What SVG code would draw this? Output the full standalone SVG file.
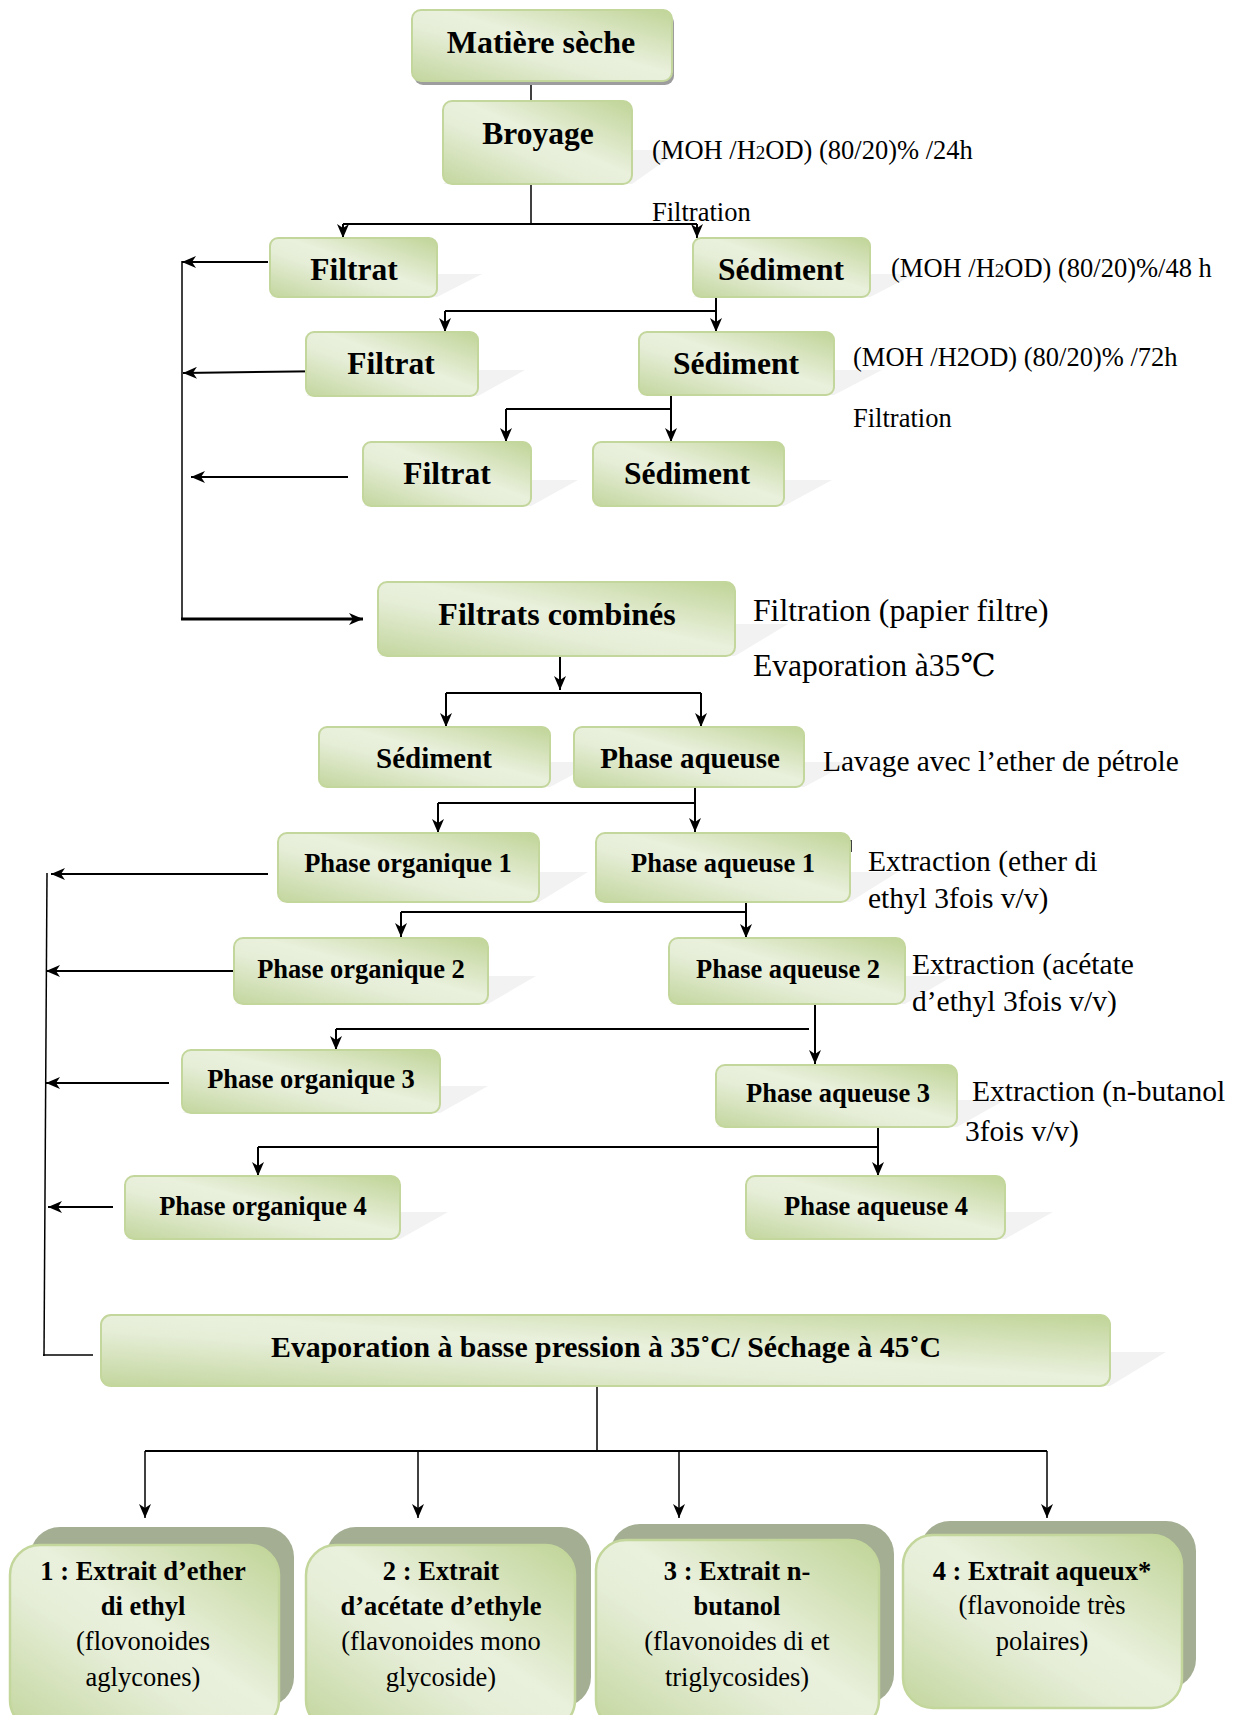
<svg xmlns="http://www.w3.org/2000/svg" width="1241" height="1715" viewBox="0 0 1241 1715">
<style>
.box{fill:url(#g);stroke:#c3d69b;stroke-width:2}
.sh{fill:#f2f2f2}
.t{font-family:"Liberation Serif","Times New Roman",serif;font-weight:bold;text-anchor:middle;fill:#000}
.a{font-family:"Liberation Serif","Times New Roman","DejaVu Serif","Noto Sans CJK SC",serif;fill:#000}
.c{stroke:#000;stroke-width:2;fill:none}
.ca{stroke:#000;stroke-width:2;fill:none;marker-end:url(#ah)}
.back{fill:#a4ae93}
.bt{font-family:"Liberation Serif","Times New Roman",serif;font-size:26.5px;text-anchor:middle;fill:#000}
</style>
<defs>
<linearGradient id="g" x1="1" y1="0" x2="0" y2="1">
<stop offset="0" stop-color="#c0d497"/>
<stop offset="0.45" stop-color="#e9f0dc"/>
<stop offset="0.6" stop-color="#e6eed8"/>
<stop offset="1" stop-color="#c3d69e"/>
</linearGradient>
<marker id="ah" viewBox="0 0 14 12" refX="14" refY="6" markerWidth="14" markerHeight="12" markerUnits="userSpaceOnUse" orient="auto">
<path d="M0,0 L14,6 L0,12 L4,6 z" fill="#000"/>
</marker>
</defs>
<rect width="1241" height="1715" fill="#fff"/>

<g id="connectors">
<line class="c" x1="531" y1="81" x2="531" y2="101" style="stroke-width:1.5"/>
<line class="c" x1="531" y1="184" x2="531" y2="224" style="stroke-width:1.5"/>
<line class="c" x1="343" y1="224" x2="697" y2="224"/>
<line class="ca" x1="343" y1="224" x2="343" y2="238"/>
<line class="ca" x1="697" y1="224" x2="697" y2="238"/>
<line class="ca" x1="716" y1="297" x2="716" y2="332"/>
<line class="c" x1="445" y1="311" x2="716" y2="311"/>
<line class="ca" x1="445" y1="311" x2="445" y2="332"/>
<line class="ca" x1="671" y1="395" x2="671" y2="442"/>
<line class="c" x1="506" y1="409" x2="671" y2="409"/>
<line class="ca" x1="506" y1="409" x2="506" y2="442"/>
<line class="c" x1="182" y1="261" x2="182" y2="620" style="stroke-width:1.5"/>
<line class="ca" x1="268" y1="262" x2="182" y2="262"/>
<line class="ca" x1="336" y1="371" x2="183" y2="373"/>
<line class="ca" x1="348" y1="477" x2="191" y2="477"/>
<line class="ca" x1="181" y1="619" x2="363" y2="619" style="stroke-width:3"/>
<line class="ca" x1="560" y1="656" x2="560" y2="690"/>
<line class="c" x1="446" y1="693" x2="701" y2="693"/>
<line class="ca" x1="446" y1="693" x2="446" y2="727"/>
<line class="ca" x1="701" y1="693" x2="701" y2="727"/>
<line class="ca" x1="695" y1="787" x2="695" y2="832"/>
<line class="c" x1="438" y1="803" x2="695" y2="803"/>
<line class="ca" x1="438" y1="803" x2="438" y2="833"/>
<line class="c" x1="851" y1="840" x2="851" y2="852" style="stroke-width:1.5"/>
<line class="ca" x1="746" y1="902" x2="746" y2="938"/>
<line class="c" x1="401" y1="912" x2="746" y2="912"/>
<line class="ca" x1="401" y1="912" x2="401" y2="937"/>
<line class="ca" x1="815" y1="1004" x2="815" y2="1064"/>
<line class="c" x1="336" y1="1029" x2="809" y2="1029"/>
<line class="ca" x1="336" y1="1029" x2="336" y2="1050"/>
<line class="ca" x1="878" y1="1127" x2="878" y2="1176"/>
<line class="c" x1="258" y1="1147" x2="878" y2="1147"/>
<line class="ca" x1="258" y1="1147" x2="258" y2="1176"/>
<line class="c" x1="47" y1="873" x2="44" y2="1356" style="stroke-width:1.5"/>
<line class="c" x1="43" y1="1355" x2="93" y2="1355" style="stroke-width:1.5"/>
<line class="ca" x1="268" y1="874" x2="51" y2="874"/>
<line class="ca" x1="234" y1="971" x2="46" y2="971"/>
<line class="ca" x1="169" y1="1083" x2="46" y2="1083"/>
<line class="ca" x1="113" y1="1207" x2="48" y2="1207"/>
<line class="c" x1="597" y1="1386" x2="597" y2="1451" style="stroke-width:1.5"/>
<line class="c" x1="145" y1="1451" x2="1047" y2="1451"/>
<line class="ca" x1="145" y1="1451" x2="145" y2="1518" style="stroke-width:1.5"/>
<line class="ca" x1="418" y1="1451" x2="418" y2="1518" style="stroke-width:1.5"/>
<line class="ca" x1="679" y1="1451" x2="679" y2="1518" style="stroke-width:1.5"/>
<line class="ca" x1="1047" y1="1451" x2="1047" y2="1518" style="stroke-width:1.5"/>
</g>

<g id="n-matiere">
<rect x="414" y="14" width="260" height="71" rx="9" fill="#9d9d9d"/>
<rect class="box" x="412" y="10" width="260" height="71" rx="9"/>
<text class="t" x="541" y="53" font-size="32">Matière sèche</text>
</g>
<g id="n-broyage">
<polygon class="sh" points="500,150 680,150 632,184 443,184"/>
<rect class="box" x="443" y="101" width="189" height="83" rx="9"/>
<text class="t" x="538" y="144" font-size="31.5">Broyage</text>
</g>
<g id="n-filtrat1">
<polygon class="sh" points="320,274 482,274 437,297 270,297"/>
<rect class="box" x="270" y="238" width="167" height="59" rx="8"/>
<text class="t" x="354" y="280" font-size="31.5">Filtrat</text>
</g>
<g id="n-sediment1">
<polygon class="sh" points="745,274 915,274 870,297 693,297"/>
<rect class="box" x="693" y="238" width="177" height="59" rx="8"/>
<text class="t" x="781" y="280" font-size="31.5">Sédiment</text>
</g>
<g id="n-filtrat2">
<polygon class="sh" points="360,370 525,370 478,396 306,396"/>
<rect class="box" x="306" y="332" width="172" height="64" rx="8"/>
<text class="t" x="391" y="374" font-size="31.5">Filtrat</text>
</g>
<g id="n-sediment2">
<polygon class="sh" points="700,370 882,370 834,395 639,395"/>
<rect class="box" x="639" y="332" width="195" height="63" rx="8"/>
<text class="t" x="736" y="374" font-size="31.5">Sédiment</text>
</g>
<g id="n-filtrat3">
<polygon class="sh" points="415,480 578,480 531,506 363,506"/>
<rect class="box" x="363" y="442" width="168" height="64" rx="8"/>
<text class="t" x="447" y="484" font-size="31.5">Filtrat</text>
</g>
<g id="n-sediment3">
<polygon class="sh" points="650,480 832,480 784,506 593,506"/>
<rect class="box" x="593" y="442" width="191" height="64" rx="8"/>
<text class="t" x="687" y="484" font-size="31.5">Sédiment</text>
</g>
<g id="n-filtrats-combines">
<polygon class="sh" points="480,624 788,624 735,656 378,656"/>
<rect class="box" x="378" y="582" width="357" height="74" rx="9"/>
<text class="t" x="557" y="625" font-size="32">Filtrats combinés</text>
</g>
<g id="n-sediment4">
<polygon class="sh" points="390,762 597,762 550,787 319,787"/>
<rect class="box" x="319" y="727" width="231" height="60" rx="8"/>
<text class="t" x="434" y="768" font-size="29">Sédiment</text>
</g>
<g id="n-phase-aqueuse">
<polygon class="sh" points="645,762 851,762 804,787 574,787"/>
<rect class="box" x="574" y="727" width="230" height="60" rx="8"/>
<text class="t" x="690" y="768" font-size="29">Phase aqueuse</text>
</g>
<g id="n-org1">
<polygon class="sh" points="360,872 588,872 539,902 278,902"/>
<rect class="box" x="278" y="833" width="261" height="69" rx="9"/>
<text class="t" x="408" y="872" font-size="26.5">Phase organique 1</text>
</g>
<g id="n-aq1">
<polygon class="sh" points="675,872 898,872 850,902 596,902"/>
<rect class="box" x="596" y="833" width="254" height="69" rx="9"/>
<text class="t" x="723" y="872" font-size="26.5">Phase aqueuse 1</text>
</g>
<g id="n-org2">
<polygon class="sh" points="310,976 536,976 488,1004 234,1004"/>
<rect class="box" x="234" y="938" width="254" height="66" rx="9"/>
<text class="t" x="361" y="978" font-size="26.5">Phase organique 2</text>
</g>
<g id="n-aq2">
<polygon class="sh" points="740,976 953,976 905,1004 669,1004"/>
<rect class="box" x="669" y="938" width="236" height="66" rx="9"/>
<text class="t" x="788" y="978" font-size="26.5">Phase aqueuse 2</text>
</g>
<g id="n-org3">
<polygon class="sh" points="260,1086 488,1086 440,1113 182,1113"/>
<rect class="box" x="182" y="1050" width="258" height="63" rx="9"/>
<text class="t" x="311" y="1088" font-size="26.5">Phase organique 3</text>
</g>
<g id="n-aq3">
<polygon class="sh" points="790,1100 1005,1100 957,1127 716,1127"/>
<rect class="box" x="716" y="1065" width="241" height="62" rx="9"/>
<text class="t" x="838" y="1102" font-size="26.5">Phase aqueuse 3</text>
</g>
<g id="n-org4">
<polygon class="sh" points="205,1212 448,1212 400,1239 125,1239"/>
<rect class="box" x="125" y="1176" width="275" height="63" rx="9"/>
<text class="t" x="263" y="1215" font-size="26.5">Phase organique 4</text>
</g>
<g id="n-aq4">
<polygon class="sh" points="825,1212 1053,1212 1005,1239 746,1239"/>
<rect class="box" x="746" y="1176" width="259" height="63" rx="9"/>
<text class="t" x="876" y="1215" font-size="26.5">Phase aqueuse 4</text>
</g>
<g id="n-evaporation">
<polygon class="sh" points="400,1352 1166,1352 1110,1386 101,1386"/>
<rect class="box" x="101" y="1315" width="1009" height="71" rx="10"/>
<text class="t" x="606" y="1357" font-size="29.8">Evaporation à basse pression à 35˚C/ Séchage à 45˚C</text>
</g>

<g id="n-extrait1">
<rect class="back" x="30" y="1527" width="264" height="180" rx="30"/>
<rect class="box" x="10" y="1545" width="269" height="185" rx="30" style="stroke-width:2.5"/>
<text class="bt" x="143" y="1580" font-weight="bold">1 : Extrait d’ether</text>
<text class="bt" x="143" y="1615" font-weight="bold">di ethyl</text>
<text class="bt" x="143" y="1650">(flovonoides</text>
<text class="bt" x="143" y="1686">aglycones)</text>
</g>
<g id="n-extrait2">
<rect class="back" x="326" y="1527" width="265" height="180" rx="30"/>
<rect class="box" x="306" y="1545" width="269" height="185" rx="30" style="stroke-width:2.5"/>
<text class="bt" x="441" y="1580" font-weight="bold">2 : Extrait</text>
<text class="bt" x="441" y="1615" font-weight="bold">d’acétate d’ethyle</text>
<text class="bt" x="441" y="1650">(flavonoides mono</text>
<text class="bt" x="441" y="1686">glycoside)</text>
</g>
<g id="n-extrait3">
<rect class="back" x="610" y="1524" width="284" height="180" rx="30"/>
<rect class="box" x="596" y="1540" width="283" height="190" rx="30" style="stroke-width:2.5"/>
<text class="bt" x="737" y="1580" font-weight="bold">3 : Extrait n-</text>
<text class="bt" x="737" y="1615" font-weight="bold">butanol</text>
<text class="bt" x="737" y="1650">(flavonoides di et</text>
<text class="bt" x="737" y="1686">triglycosides)</text>
</g>
<g id="n-extrait4">
<rect class="back" x="920" y="1521" width="276" height="168" rx="30"/>
<rect class="box" x="903" y="1535" width="279" height="173" rx="30" style="stroke-width:2.5"/>
<text class="bt" x="1042" y="1580" font-weight="bold">4 : Extrait aqueux*</text>
<text class="bt" x="1042" y="1614">(flavonoide très</text>
<text class="bt" x="1042" y="1650">polaires)</text>
</g>

<g id="annotations">
<text class="a" x="652" y="159" font-size="26.5">(MOH /H<tspan font-size="19">2</tspan>OD) (80/20)% /24h</text>
<text class="a" x="652" y="221" font-size="26.5">Filtration</text>
<text class="a" x="891" y="277" font-size="26.5">(MOH /H<tspan font-size="19">2</tspan>OD) (80/20)%/48 h</text>
<text class="a" x="853" y="366" font-size="26.5">(MOH /H2OD) (80/20)% /72h</text>
<text class="a" x="853" y="427" font-size="26.5">Filtration</text>
<text class="a" x="753" y="621" font-size="31.7">Filtration (papier filtre)</text>
<text class="a" x="753" y="676" font-size="31.5">Evaporation à35℃</text>
<text class="a" x="823" y="771" font-size="29.4">Lavage avec l’ether de pétrole</text>
<text class="a" x="868" y="871" font-size="29.5">Extraction (ether di</text>
<text class="a" x="868" y="908" font-size="29.5">ethyl 3fois v/v)</text>
<text class="a" x="912" y="974" font-size="29.5">Extraction (acétate</text>
<text class="a" x="912" y="1011" font-size="29.5">d’ethyl 3fois v/v)</text>
<text class="a" x="972" y="1101" font-size="29.5">Extraction (n-butanol</text>
<text class="a" x="965" y="1141" font-size="29.5">3fois v/v)</text>
</g>
</svg>
